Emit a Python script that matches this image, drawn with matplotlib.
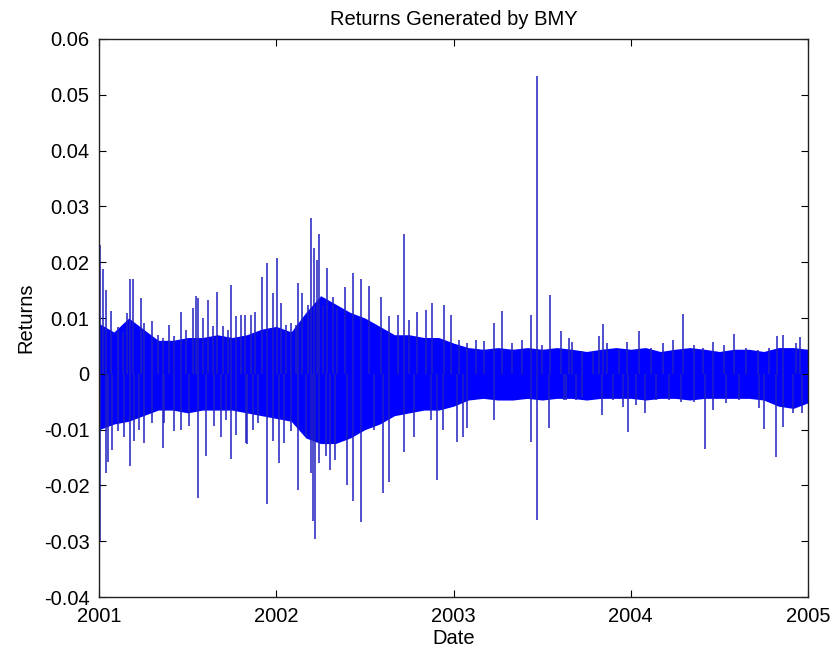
import matplotlib
matplotlib.use("Agg")
import matplotlib.pyplot as plt
import numpy as np

plt.rcParams['font.family'] = ['Liberation Sans', 'DejaVu Sans']

# dense core of the return series, read monthly (2001-01 .. 2005-01)
months = np.arange(49)
core_hi = [0.009, 0.0075, 0.010, 0.008, 0.006, 0.006, 0.0065, 0.0065, 0.007, 0.0065,
           0.007, 0.008, 0.0085, 0.0075, 0.011, 0.014, 0.0125, 0.011, 0.010, 0.0085,
           0.007, 0.007, 0.0065, 0.0065, 0.0055, 0.0047, 0.0044, 0.0047, 0.0044, 0.0047,
           0.0044, 0.0047, 0.0044, 0.004, 0.0044, 0.0047, 0.0044, 0.0047, 0.004, 0.0044,
           0.0047, 0.0044, 0.004, 0.0044, 0.0044, 0.004, 0.0047, 0.0047, 0.0044]
core_lo = [-0.010, -0.009, -0.0085, -0.0075, -0.0065, -0.0065, -0.007, -0.0065, -0.0065, -0.0065,
           -0.007, -0.0075, -0.008, -0.0085, -0.0115, -0.0125, -0.0125, -0.0115, -0.010, -0.009,
           -0.0075, -0.007, -0.0065, -0.0065, -0.0058, -0.0047, -0.0044, -0.0047, -0.0047, -0.0044,
           -0.0047, -0.0044, -0.0044, -0.0047, -0.0044, -0.0044, -0.0044, -0.0047, -0.0044, -0.0044,
           -0.0047, -0.0044, -0.0044, -0.0044, -0.0044, -0.0047, -0.0058, -0.0062, -0.0052]

# spikes sticking out of the band (time in years, return)
spike_up_t = [2001.006, 2001.023, 2001.040, 2001.068, 2001.104, 2001.132, 2001.160, 2001.175,
              2001.192, 2001.237, 2001.254, 2001.301, 2001.330, 2001.358, 2001.395, 2001.424,
              2001.463, 2001.493, 2001.527, 2001.548, 2001.559, 2001.584, 2001.616, 2001.640,
              2001.667, 2001.697, 2001.725, 2001.746, 2001.772, 2001.800, 2001.825, 2001.857,
              2001.881, 2001.921, 2001.949, 2001.983, 2002.006, 2002.026, 2002.055, 2002.083,
              2002.111, 2002.124, 2002.147, 2002.177, 2002.198, 2002.215, 2002.232, 2002.243,
              2002.262, 2002.288, 2002.318, 2002.343, 2002.390, 2002.435, 2002.480, 2002.525,
              2002.588, 2002.635, 2002.689, 2002.723, 2002.748, 2002.791, 2002.842, 2002.881,
              2002.944, 2002.983, 2003.030, 2003.077, 2003.124, 2003.171, 2003.226, 2003.271,
              2003.331, 2003.388, 2003.435, 2003.469, 2003.501, 2003.542, 2003.605, 2003.652,
              2003.667, 2003.727, 2003.784, 2003.821, 2003.842, 2003.868, 2003.934, 2003.981,
              2004.045, 2004.113, 2004.179, 2004.236, 2004.294, 2004.358, 2004.405, 2004.462,
              2004.528, 2004.582, 2004.650, 2004.716, 2004.782, 2004.825, 2004.859, 2004.932,
              2004.955]
spike_up_v = [0.023, 0.0188, 0.015, 0.0112, 0.0083, 0.0075, 0.0109, 0.017,
              0.017, 0.0136, 0.0091, 0.0094, 0.007, 0.0064, 0.0088, 0.0067,
              0.011, 0.0079, 0.0118, 0.014, 0.0135, 0.010, 0.0133, 0.0085,
              0.0147, 0.0085, 0.0079, 0.016, 0.0103, 0.0106, 0.0106, 0.0106,
              0.011, 0.0174, 0.0199, 0.0145, 0.0207, 0.0127, 0.0088, 0.0091,
              0.0088, 0.0163, 0.0145, 0.0123, 0.028, 0.0225, 0.0204, 0.025,
              0.0123, 0.019, 0.0138, 0.0118, 0.0156, 0.018, 0.0169, 0.0158,
              0.0138, 0.0103, 0.0106, 0.025, 0.0097, 0.011, 0.0115, 0.0127,
              0.0124, 0.0106, 0.0061, 0.0055, 0.0061, 0.0058, 0.0091, 0.0113,
              0.0055, 0.0061, 0.0106, 0.0533, 0.0052, 0.0142, 0.0077, 0.0064,
              0.0057, 0.004, 0.004, 0.0067, 0.009, 0.0055, 0.0043, 0.0057,
              0.0076, 0.0046, 0.0055, 0.006, 0.0107, 0.0052, 0.0046, 0.0057,
              0.0052, 0.0072, 0.0046, 0.0043, 0.0046, 0.0068, 0.007, 0.0055,
              0.0066]
spike_dn_t = [2001.006, 2001.040, 2001.051, 2001.075, 2001.104, 2001.141, 2001.175, 2001.198,
              2001.226, 2001.254, 2001.301, 2001.362, 2001.367, 2001.424, 2001.461, 2001.508,
              2001.559, 2001.605, 2001.650, 2001.687, 2001.716, 2001.746, 2001.772, 2001.829,
              2001.836, 2001.866, 2001.895, 2001.949, 2001.979, 2002.017, 2002.045, 2002.083,
              2002.124, 2002.168, 2002.198, 2002.209, 2002.220, 2002.243, 2002.281, 2002.305,
              2002.333, 2002.401, 2002.435, 2002.480, 2002.550, 2002.599, 2002.638, 2002.723,
              2002.776, 2002.870, 2002.908, 2002.938, 2003.017, 2003.051, 2003.073, 2003.226,
              2003.435, 2003.469, 2003.537, 2003.623, 2003.633, 2003.690, 2003.727, 2003.836,
              2003.897, 2003.957, 2003.983, 2004.028, 2004.081, 2004.141, 2004.217, 2004.283,
              2004.358, 2004.418, 2004.462, 2004.537, 2004.612, 2004.725, 2004.751, 2004.819,
              2004.859, 2004.914, 2004.966]
spike_dn_v = [-0.030, -0.0178, -0.0158, -0.0136, -0.0103, -0.0113, -0.0165, -0.0121,
              -0.010, -0.0124, -0.0088, -0.0133, -0.0088, -0.0103, -0.010, -0.0094,
              -0.0223, -0.0148, -0.0094, -0.0113, -0.0082, -0.0153, -0.0109, -0.0124,
              -0.0126, -0.010, -0.0088, -0.0233, -0.0121, -0.016, -0.0124, -0.0103,
              -0.0208, -0.0113, -0.0178, -0.0263, -0.0296, -0.016, -0.0148, -0.0172,
              -0.0154, -0.0199, -0.0228, -0.0265, -0.010, -0.0213, -0.0193, -0.014,
              -0.0113, -0.0082, -0.019, -0.010, -0.0122, -0.0113, -0.0097, -0.0082,
              -0.0122, -0.0262, -0.0097, -0.0047, -0.0047, -0.0047, -0.0041, -0.0074,
              -0.0047, -0.0059, -0.0104, -0.0056, -0.007, -0.0047, -0.0047, -0.005,
              -0.005, -0.0135, -0.0065, -0.0052, -0.0047, -0.0061, -0.0099, -0.0149,
              -0.0095, -0.007, -0.007]

year_ticks = [2001, 2002, 2003, 2004, 2005]
y_ticks = [-0.04, -0.03, -0.02, -0.01, 0, 0.01, 0.02, 0.03, 0.04, 0.05, 0.06]
y_labels = ['-0.04', '-0.03', '-0.02', '-0.01', '0', '0.01', '0.02', '0.03', '0.04', '0.05', '0.06']

fig = plt.figure(figsize=(8.33, 6.55), dpi=100)
ax = fig.add_axes([0.119, 0.0885, 0.851, 0.852])

t = 2001 + months / 12.0
ax.fill_between(t, core_lo, core_hi, color='#0000ff', lw=0)
ax.vlines(spike_up_t, 0, spike_up_v, color='#2020c0', lw=1.1)
ax.vlines(spike_dn_t, 0, spike_dn_v, color='#2020c0', lw=1.1)

ax.set_xlim(2001, 2005)
ax.set_ylim(-0.04, 0.06)
ax.set_xticks(year_ticks)
ax.set_xticklabels([str(y) for y in year_ticks])
ax.set_yticks(y_ticks)
ax.set_yticklabels(y_labels)
ax.tick_params(direction='in', top=True, right=True, length=5, labelsize=14.5, pad=7)
for s in ax.spines.values():
    s.set_linewidth(1.0)
    s.set_color('#222222')

ax.set_title('Returns Generated by BMY', fontsize=14.5, pad=10)
ax.set_xlabel('Date', fontsize=14.5, labelpad=2)
ax.set_ylabel('Returns', fontsize=14.5, labelpad=6)

fig.savefig('out.png', dpi=100)
